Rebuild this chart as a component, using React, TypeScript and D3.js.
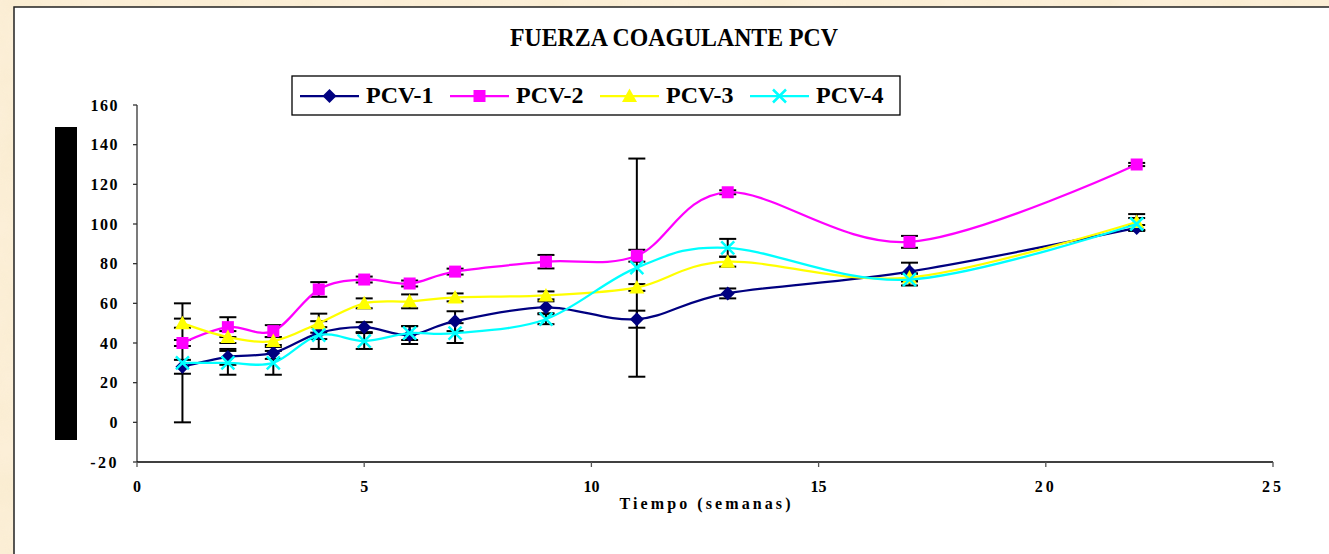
import React from 'react';
import * as d3 from 'd3';

const weeks = [1, 2, 3, 4, 5, 6, 7, 9, 11, 13, 17, 22];
const seriesNames = ['PCV-1', 'PCV-2', 'PCV-3', 'PCV-4'];
const pcv1 = [28, 33, 35, 45, 48, 44, 51, 58, 52, 65, 76, 98];
const pcv2 = [40, 48, 46, 67, 72, 70, 76, 81, 84, 116, 91, 130];
const pcv3 = [50, 43, 41, 50, 60, 61, 63, 64, 68, 81, 73, 101];
const pcv4 = [30, 30, 30, 44, 41, 45, 45, 52, 78, 88, 72, 100];
const err1 = [3.5, 4, 3, 3, 2.5, 4.5, 5, 3, 4.3, 2.5, 4.5, 1.5];
const err2 = [1.5, 5, 3, 3.7, 1.5, 1.5, 1.5, 3.4, 3, 1, 3, 0.8];
const err3 = [2.3, 3, 2, 4.8, 2.5, 3.5, 2, 2, 1.7, 2.5, 2, 4];
const err4 = [30, 6, 6, 7, 4, 3.5, 5, 2.5, 55, 4.5, 3, 3];
const yTicks = [-20, 0, 20, 40, 60, 80, 100, 120, 140, 160];
const xTicks = [0, 5, 10, 15, 20, 25];
const colors = ['#000080', '#FF00FF', '#FFFF00', '#00FFFF'];
const markerKinds = ['diamond', 'square', 'triangle', 'x'];
const titleText = 'FUERZA COAGULANTE PCV';
const xTitle = 'Tiempo (semanas)';

const W = 1329;
const H = 554;
const FONT = '"Liberation Serif", "Times New Roman", "DejaVu Serif", serif';

const x = d3.scaleLinear().domain([0, 25]).range([137, 1273]);
const y = d3.scaleLinear().domain([-20, 160]).range([462, 105]);

const values = [pcv1, pcv2, pcv3, pcv4];
const errors = [err1, err2, err3, err4];

function Marker({ kind, cx, cy, color }: { kind: string; cx: number; cy: number; color: string }) {
  if (kind === 'diamond') {
    return <path d={`M${cx},${cy - 7}L${cx + 7},${cy}L${cx},${cy + 7}L${cx - 7},${cy}Z`} fill={color} />;
  }
  if (kind === 'square') {
    return <rect x={cx - 6} y={cy - 6} width={12} height={12} fill={color} />;
  }
  if (kind === 'triangle') {
    return <path d={`M${cx},${cy - 7.5}L${cx + 7.5},${cy + 6}L${cx - 7.5},${cy + 6}Z`} fill={color} />;
  }
  return (
    <path
      d={`M${cx - 6.5},${cy - 6.5}L${cx + 6.5},${cy + 6.5}M${cx + 6.5},${cy - 6.5}L${cx - 6.5},${cy + 6.5}`}
      stroke={color}
      strokeWidth={2.5}
      fill="none"
    />
  );
}

export default function App() {
  const line = d3
    .line<number>()
    .x((_, i) => x(weeks[i]))
    .y((d) => y(d))
    .curve(d3.curveCardinal.tension(0));

  return (
    <svg
      width={W}
      height={H}
      viewBox={`0 0 ${W} ${H}`}
      style={{ position: 'absolute', left: 0, top: 0, display: 'block', fontFamily: FONT }}
    >
      <defs>
        <filter id="paper" x="0" y="0" width="100%" height="100%">
          <feTurbulence type="fractalNoise" baseFrequency="0.015" numOctaves={4} seed={7} />
          <feColorMatrix
            type="matrix"
            values="0 0 0 0 0.93  0 0 0 0 0.82  0 0 0 0 0.58  1.3 0 0 0 -0.45"
          />
        </filter>
      </defs>
      <rect x={0} y={0} width={W} height={H} fill="#fcefd8" />
      <rect x={0} y={0} width={W} height={H} filter="url(#paper)" opacity={0.75} />

      {/* chart panel */}
      <rect x={14} y={7} width={1400} height={700} fill="#ffffff" stroke="#222222" strokeWidth={1.5} />

      {/* title */}
      <text
        x={674}
        y={46}
        textAnchor="middle"
        fontSize={25}
        fontWeight="bold"
        textLength={328}
        lengthAdjust="spacingAndGlyphs"
        fill="#000"
      >
        {titleText}
      </text>

      {/* legend */}
      <rect x={292} y={76} width={608} height={39} fill="#fff" stroke="#000" strokeWidth={1.3} />
      {seriesNames.map((name, i) => {
        const x0 = 300 + i * 150;
        return (
          <g key={name}>
            <line x1={x0} x2={x0 + 59} y1={96} y2={96} stroke={colors[i]} strokeWidth={2.25} />
            <Marker kind={markerKinds[i]} cx={x0 + 29.5} cy={96} color={colors[i]} />
            <text x={x0 + 66} y={103} fontSize={24} fontWeight="bold" fill="#000">
              {name}
            </text>
          </g>
        );
      })}

      {/* y-axis title placeholder bar */}
      <rect x={55} y={127} width={22} height={313} fill="#000" />

      {/* axes */}
      <line x1={137} x2={137} y1={y(160)} y2={y(-20)} stroke="#333" strokeWidth={1.3} />
      {yTicks.map((t) => (
        <g key={'y' + t}>
          <line x1={133} x2={137} y1={y(t)} y2={y(t)} stroke="#333" strokeWidth={1.3} />
          <text
            x={119}
            y={y(t) + 5.5}
            textAnchor="end"
            fontSize={16}
            fontWeight="bold"
            letterSpacing={t < 0 ? 2.5 : 1.5}
            fill="#000"
          >
            {String(t)}
          </text>
        </g>
      ))}
      <line x1={x(0)} x2={x(25)} y1={y(-20)} y2={y(-20)} stroke="#000" strokeWidth={1.5} />
      {xTicks.map((t) => (
        <g key={'x' + t}>
          <line x1={x(t)} x2={x(t)} y1={y(-20)} y2={y(-20) + 5} stroke="#555" strokeWidth={1.3} />
          <text
            x={x(t)}
            y={492}
            textAnchor="middle"
            fontSize={16}
            fontWeight="bold"
            letterSpacing={t >= 20 ? 3 : 0}
            fill="#000"
          >
            {String(t)}
          </text>
        </g>
      ))}
      <text
        x={705}
        y={509}
        textAnchor="middle"
        fontSize={16}
        fontWeight="bold"
        textLength={171}
        lengthAdjust="spacing"
        fill="#000"
      >
        {xTitle}
      </text>

      {/* error bars */}
      {values.map((vals, s) =>
        vals.map((v, i) => {
          const e = errors[s][i];
          const cx = x(weeks[i]);
          const y1 = y(v + e);
          const y2 = y(v - e);
          return (
            <g key={`e${s}-${i}`} stroke="#000" strokeWidth={2}>
              <line x1={cx} x2={cx} y1={y1} y2={y2} />
              <line x1={cx - 8.5} x2={cx + 8.5} y1={y1} y2={y1} />
              <line x1={cx - 8.5} x2={cx + 8.5} y1={y2} y2={y2} />
            </g>
          );
        })
      )}

      {/* series */}
      {values.map((vals, s) => (
        <g key={'s' + s}>
          <path d={line(vals) || ''} fill="none" stroke={colors[s]} strokeWidth={2.25} />
          {vals.map((v, i) => (
            <Marker key={i} kind={markerKinds[s]} cx={x(weeks[i])} cy={y(v)} color={colors[s]} />
          ))}
        </g>
      ))}
    </svg>
  );
}
